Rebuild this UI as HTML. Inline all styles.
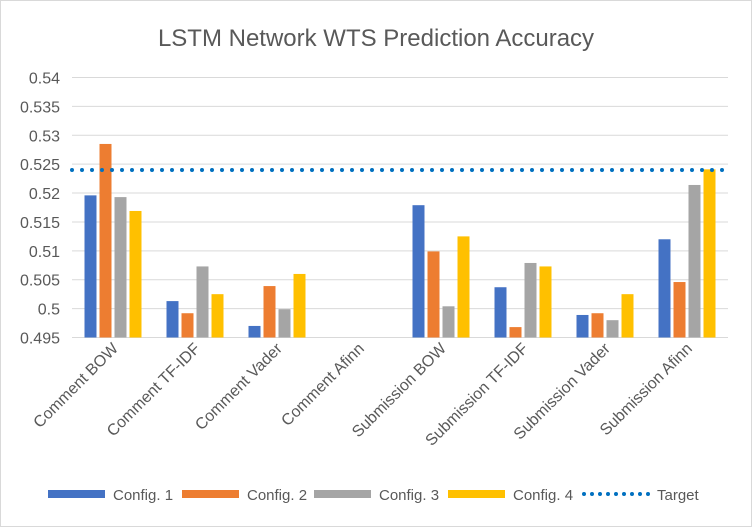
<!DOCTYPE html>
<html><head><meta charset="utf-8"><style>
body{margin:0;background:#fff;}
svg text{font-family:"Liberation Sans",sans-serif;}
</style></head><body>
<svg id="chart" width="752" height="527" xmlns="http://www.w3.org/2000/svg">
<rect x="0.5" y="0.5" width="751" height="526" fill="#fff" stroke="#d9d9d9"/>
<text x="376" y="46" text-anchor="middle" font-size="24" fill="#595959">LSTM Network WTS Prediction Accuracy</text>
<g id="grid"></g><g id="bars"></g><g id="xlabels"></g><g id="legend"></g>
</svg>
<script>
const categories=["Comment BOW","Comment TF-IDF","Comment Vader","Comment Afinn","Submission BOW","Submission TF-IDF","Submission Vader","Submission Afinn"];
const config1=[0.5196,0.5013,0.4970,null,0.5179,0.5037,0.4989,0.5120];
const config2=[0.5285,0.4992,0.5039,null,0.5099,0.4968,0.4992,0.5046];
const config3=[0.5193,0.5073,0.4999,null,0.5004,0.5079,0.4980,0.5214];
const config4=[0.5169,0.5025,0.5060,null,0.5125,0.5073,0.5025,0.5241];
const target=0.524;
const seriesNames=["Config. 1","Config. 2","Config. 3","Config. 4"];
const yTicks=[0.495,0.5,0.505,0.51,0.515,0.52,0.525,0.53,0.535,0.54];
const yMin=0.495,yMax=0.54;
const NS="http://www.w3.org/2000/svg";
const colors=["#4472c4","#ed7d31","#a5a5a5","#ffc000"];
const px0=72,px1=728,py0=337.5,py1=77.5;
const y=v=>py0-(v-yMin)/(yMax-yMin)*(py0-py1);
const cw=(px1-px0)/categories.length;
const x=i=>px0+i*cw;
function mk(t,a,p){const e=document.createElementNS(NS,t);for(const k in a)e.setAttribute(k,a[k]);p.appendChild(e);return e;}
const grid=document.getElementById('grid');
yTicks.forEach(t=>{
 const l=mk('line',{x1:px0,x2:px1,y1:y(t),y2:y(t),stroke:'#d9d9d9','stroke-width':1},grid);
 
 
 const tx=mk('text',{x:60,y:y(t)+6,'text-anchor':'end','font-size':16,fill:'#595959'},grid);
 tx.textContent=String(t);
 
 
});
const bars=document.getElementById('bars');
const series=[config1,config2,config3,config4];
const bw=12,gap=3,gw=4*bw+3*gap;
series.forEach((s,si)=>{
 s.forEach((v,i)=>{
  if(v===null||v<=yMin)return;
  const bx=x(i)+(cw-gw)/2+si*(bw+gap);
  const r=mk('rect',{x:bx,y:y(v),width:bw,height:py0-y(v),fill:colors[si]},bars);
  
  
 });
});
const tl=mk('line',{x1:px0,x2:px1,y1:y(target),y2:y(target),stroke:'#0070c0','stroke-width':4,'stroke-dasharray':'0 10','stroke-linecap':'round'},bars);


const xl=document.getElementById('xlabels');
categories.forEach((c,i)=>{
 const cx=x(i)+cw/2+6,cy=py0+12;
 const t=mk('text',{x:cx,y:cy,'text-anchor':'end','font-size':16,fill:'#595959',transform:`rotate(-45 ${cx} ${cy})`},xl);
 t.textContent=c;
 
 
});
const lg=document.getElementById('legend');
const lx=[48,182,314,448];
seriesNames.forEach((n,i)=>{
 const r=mk('rect',{x:lx[i],y:490,width:57,height:8,fill:colors[i]},lg);
 
 
 const t=mk('text',{x:lx[i]+65,y:500,'font-size':15,fill:'#595959'},lg);
 t.textContent=n;
 
 
});
const ll=mk('line',{x1:584,x2:650,y1:494,y2:494,stroke:'#0070c0','stroke-width':4,'stroke-dasharray':'0 8','stroke-linecap':'round'},lg);


const lt=mk('text',{x:657,y:500,'font-size':15,fill:'#595959'},lg);
lt.textContent='Target';


</script>
</body></html>
